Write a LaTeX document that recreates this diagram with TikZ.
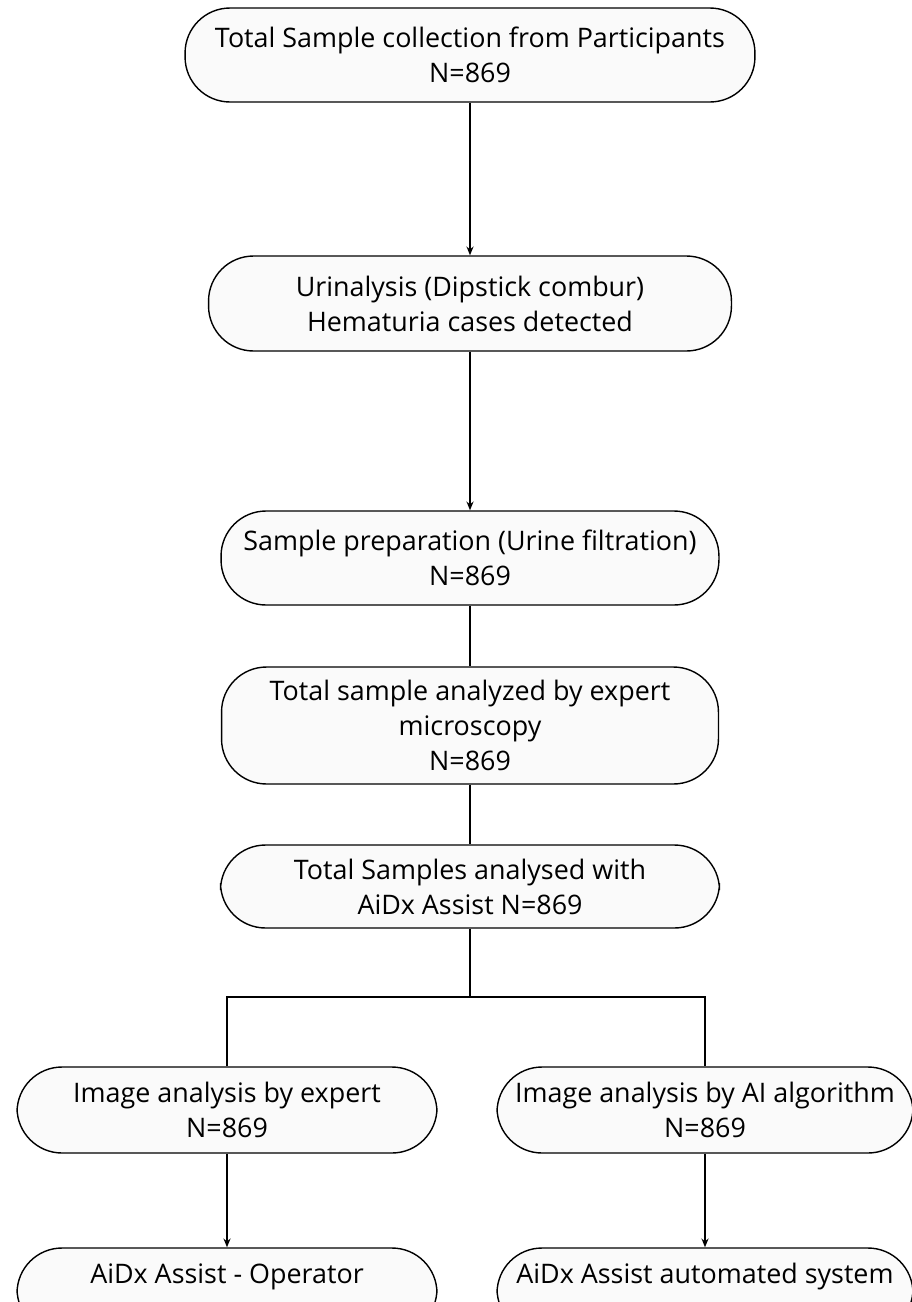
\documentclass[tikz,border=0pt]{standalone}
\usepackage{fontspec}
\setmainfont{Open Sans}
\usetikzlibrary{arrows.meta}

\begin{document}
\begin{tikzpicture}[x=0.02cm,y=-0.02cm,
    stage/.style={draw,line width=0.8pt,rounded corners=0.9cm,fill=black!2,align=center,
                  inner sep=0pt,font=\fontsize{15.3}{20}\selectfont},
    flow/.style={line width=0.8pt,-{Stealth[length=5pt,width=4pt]}},
    link/.style={line width=0.8pt}]
  \useasboundingbox (0,0) rectangle (912,1302);
  \clip (0,0) rectangle (912,1302);

  \node[stage,minimum width=11.4cm,minimum height=1.88cm] (collect) at (470,55)
    {Total Sample collection from Participants\\N=869};
  \node[stage,minimum width=10.46cm,minimum height=1.9cm] (urine) at (470,303.5)
    {Urinalysis (Dipstick combur)\\Hematuria cases detected};
  \node[stage,minimum width=9.96cm,minimum height=1.88cm] (prep) at (470,558)
    {Sample preparation (Urine filtration)\\N=869};
  \node[stage,minimum width=9.94cm,minimum height=2.34cm] (micro) at (470,725.5)
    {Total sample analyzed by expert\\microscopy\\N=869};
  \node[stage,minimum width=9.98cm,minimum height=1.66cm] (assist) at (470,886.5)
    {Total Samples analysed with\\AiDx Assist N=869};

  \node[stage,minimum width=8.4cm,minimum height=1.72cm] (expert) at (227,1110)
    {Image analysis by expert\\N=869};
  \node[stage,minimum width=8.32cm,minimum height=1.72cm] (algo) at (705,1110)
    {Image analysis by AI algorithm\\N=869};
  % lower half of these two is cut off by the page
  \node[stage,minimum width=8.4cm,minimum height=1.72cm] (operator) at (227,1291)
    {AiDx Assist - Operator\\\mbox{}};
  \node[stage,minimum width=8.32cm,minimum height=1.72cm] (auto) at (705,1291)
    {AiDx Assist automated system\\\mbox{}};

  \coordinate (split) at (470,997);

  \draw[flow] (collect) -- (urine);
  \draw[flow] (urine) -- (prep);
  \draw[link] (prep) -- (micro);
  \draw[link] (micro) -- (assist);
  \draw[link] (assist) -- (split);
  \draw[link] (expert.north) |- (split) -| (algo.north);
  \draw[flow] (expert) -- (operator);
  \draw[flow] (algo) -- (auto);
\end{tikzpicture}
\end{document}
